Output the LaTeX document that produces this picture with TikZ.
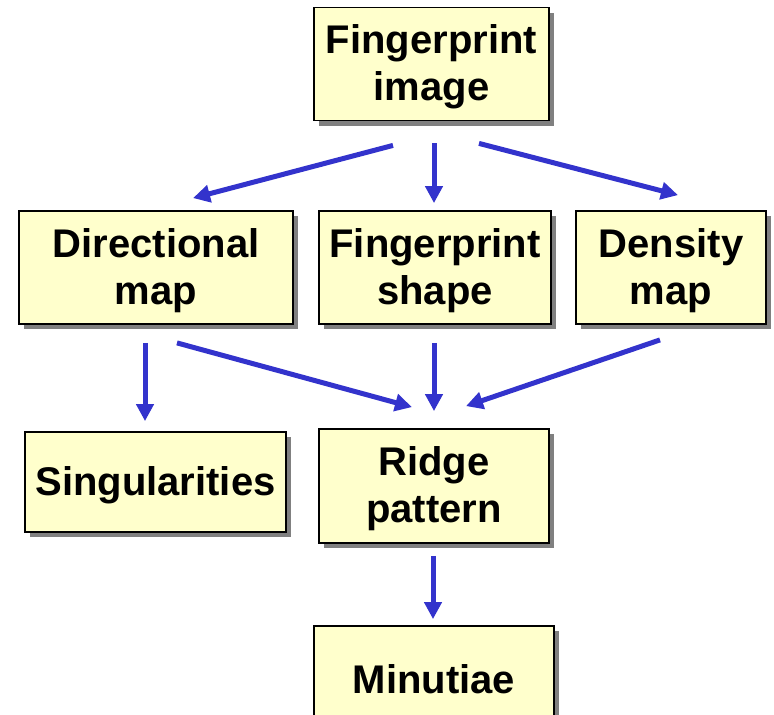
\documentclass[tikz,border=0pt]{standalone}
\usepackage{fontspec}
\setmainfont{Liberation Sans}
\usetikzlibrary{arrows.meta,shadows}
\definecolor{boxfill}{HTML}{FFFFCC}
\definecolor{arrblue}{HTML}{3333CC}
\definecolor{shadowgray}{HTML}{808080}
\tikzset{
  box/.style={draw=black, line width=1.8pt, fill=boxfill, inner sep=0pt,
    drop shadow={shadow xshift=5pt, shadow yshift=-5pt, fill=shadowgray, opacity=1}},
  boxtext/.style={align=center, inner sep=0pt, yshift=-3pt,
    font=\fontsize{40}{47}\selectfont\bfseries},
  arr/.style={draw=arrblue, line width=5pt, -{Triangle[length=17pt,width=17pt]}}
}
\begin{document}
\begin{tikzpicture}[x=1pt,y=-1pt]
\useasboundingbox (0,0) rectangle (774,715);
\node[box, minimum width=235pt, minimum height=113pt,
  label={[boxtext,name=fit]center:Fingerprint\\image}] (fi) at (431.5,64) {};
\node[box, minimum width=274pt, minimum height=113pt,
  label={[boxtext,name=dirt]center:Directional\\map}] (dir) at (156,267.5) {};
\node[box, minimum width=232pt, minimum height=113pt,
  label={[boxtext,name=fst]center:Fingerprint\\shape}] (fs) at (435,267.5) {};
\node[box, minimum width=190pt, minimum height=113pt,
  label={[boxtext,name=dent]center:Density\\map}] (den) at (671,267.5) {};
\node[box, minimum width=261pt, minimum height=100pt,
  label={[boxtext,name=singt]center:Singularities}] (sing) at (155.5,482) {};
\node[box, minimum width=230pt, minimum height=114pt,
  label={[boxtext,name=ridget]center:Ridge\\pattern}] (ridge) at (434,486) {};
\node[box, minimum width=240pt, minimum height=100pt,
  label={[boxtext,name=mint]center:Minutiae}] (min) at (434,676) {};
\draw[arr] ([xshift=-38.5pt,yshift=-24pt]fi.south) -- ([xshift=37pt,yshift=12pt]dir.north);
\draw[arr] ([xshift=2.5pt,yshift=-22pt]fi.south) -- ([xshift=-1pt,yshift=7pt]fs.north);
\draw[arr] ([xshift=47.5pt,yshift=-22pt]fi.south) -- ([xshift=7pt,yshift=15pt]den.north);
\draw[arr] ([xshift=-11pt,yshift=-18pt]dir.south) -- ([xshift=-10.5pt,yshift=10pt]sing.north);
\draw[arr] ([xshift=21pt,yshift=-18pt]dir.south) -- ([xshift=-22pt,yshift=21pt]ridge.north);
\draw[arr] ([xshift=-1pt,yshift=-18pt]fs.south) -- ([xshift=0pt,yshift=17pt]ridge.north);
\draw[arr] ([xshift=-11pt,yshift=-15pt]den.south) -- ([xshift=32pt,yshift=22pt]ridge.north);
\draw[arr] ([xshift=-1pt,yshift=-12pt]ridge.south) -- ([xshift=-1pt,yshift=6pt]min.north);
\end{tikzpicture}
\end{document}
